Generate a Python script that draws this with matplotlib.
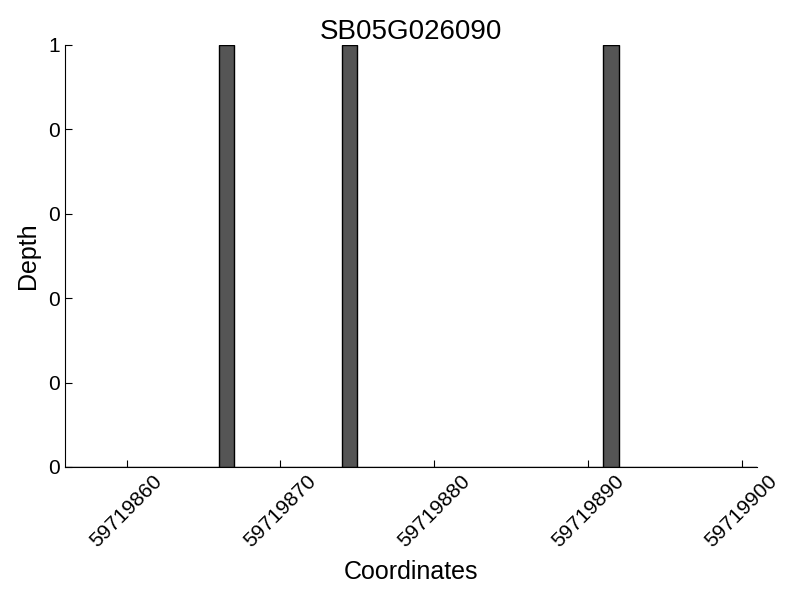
import numpy as np
import matplotlib
matplotlib.use("Agg")
import matplotlib.pyplot as plt
from matplotlib.ticker import FormatStrFormatter

plt.rcParams['font.family'] = ['Liberation Sans', 'DejaVu Sans']

# coverage depth per coordinate
coords = np.arange(59719856, 59719901)
depth = np.zeros(len(coords))
covered = [59719866, 59719874, 59719891]
depth[np.isin(coords, covered)] = 1

fig = plt.figure(figsize=(8, 6), dpi=100)
ax = fig.add_axes([0.08125, 0.2217, 0.865, 0.7033])

ax.bar(coords, depth, width=1, align="edge", color="#555555",
       edgecolor="black", linewidth=1)

ax.set_xlim(59719856, 59719901)
ax.set_ylim(0, 1)
ax.set_xticks(np.arange(59719860, 59719901, 10))
ax.set_yticks(np.linspace(0, 1, 6))
ax.yaxis.set_major_formatter(FormatStrFormatter("%d"))
ax.xaxis.set_major_formatter(FormatStrFormatter("%d"))

for s in ("top", "right"):
    ax.spines[s].set_visible(False)
ax.tick_params(direction="in", labelsize=15, length=5, width=0.8)
ax.tick_params(axis="x", labelrotation=45)
for lbl in ax.get_xticklabels():
    lbl.set_ha("center")

ax.set_xlabel("Coordinates", fontsize=18, labelpad=6)
ax.set_ylabel("Depth", fontsize=18, labelpad=6)
ax.set_title("SB05G026090", fontsize=20, pad=4)

fig.savefig("out.png", dpi=100)
